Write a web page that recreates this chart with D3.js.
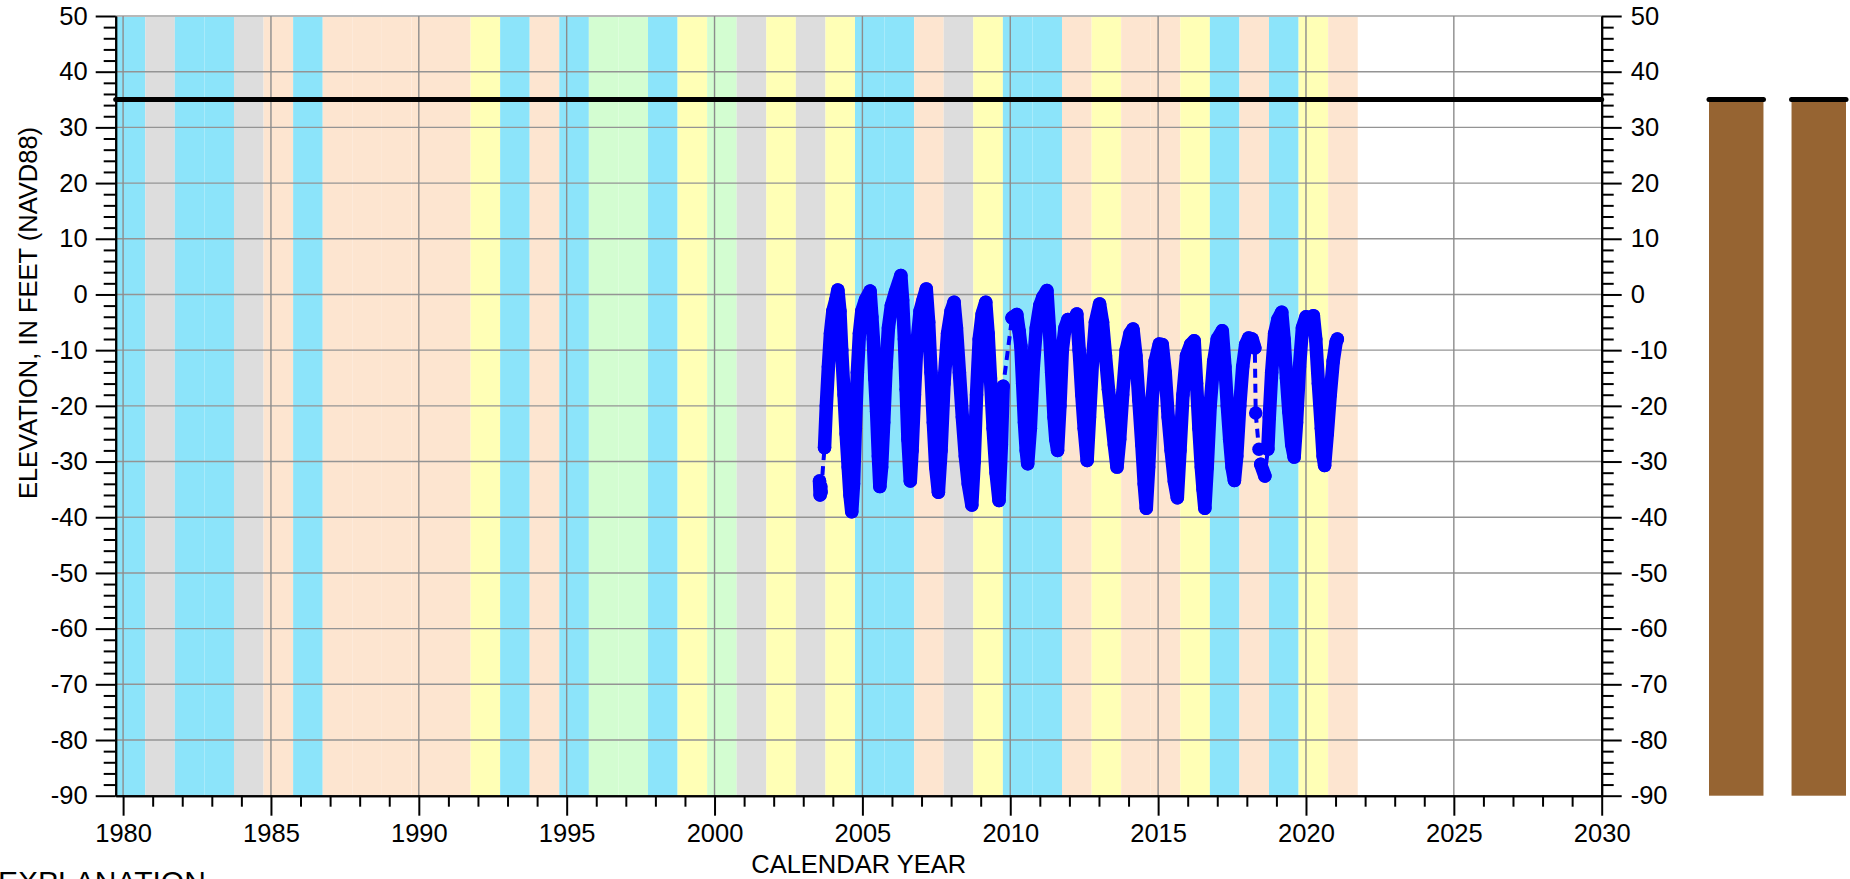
<!DOCTYPE html>
<html><head><meta charset="utf-8">
<script src="https://cdn.jsdelivr.net/npm/d3@7"></script>
<style>
body{margin:0;background:#fff;}
svg text{font-family:"Liberation Sans",Arial,sans-serif;}
</style>
</head><body>
<svg id="chart" width="1850" height="879"></svg>
<script>
// ---------------- DATA ----------------
const waterYears = [1980,1981,1982,1983,1984,1985,1986,1987,1988,1989,1990,1991,1992,1993,1994,1995,1996,1997,1998,1999,2000,2001,2002,2003,2004,2005,2006,2007,2008,2009,2010,2011,2012,2013,2014,2015,2016,2017,2018,2019,2020,2021];
const waterYearType = ["W","C","W","W","C","D","W","D","D","D","D","D","BN","W","D","W","AN","AN","W","BN","AN","C","BN","C","BN","W","W","D","C","BN","W","W","D","BN","D","D","BN","W","D","W","BN","D"];

const yTicksMajor = [-90,-80,-70,-60,-50,-40,-30,-20,-10,0,10,20,30,40,50];
const xTicksMajor = [1980,1985,1990,1995,2000,2005,2010,2015,2020,2025,2030];

const referenceElevation = 35;           // horizontal black line
const wellNames = ["A","B"];
const wellTop = [35, 35];
const wellBottom = [-90, -90];

// groundwater elevation record (decimal calendar year, feet NAVD88)
const obsYear = [
 2003.55,2003.57,2003.59,2003.60,
 2003.72,2003.78,2003.85,2003.92,2004.00,2004.10,2004.17,2004.24,2004.30,2004.38,2004.45,2004.52,2004.58,2004.64,
 2004.70,2004.76,2004.83,2004.90,2004.98,2005.10,2005.26,2005.32,2005.37,2005.42,2005.48,2005.54,2005.59,
 2005.65,2005.72,2005.80,2005.88,2005.98,2006.12,2006.30,2006.36,2006.42,2006.48,2006.54,2006.62,
 2006.68,2006.76,2006.84,2006.95,2007.05,2007.16,2007.24,2007.32,2007.40,2007.48,2007.57,
 2007.66,2007.76,2007.88,2008.00,2008.10,2008.18,2008.28,2008.38,2008.48,2008.58,2008.70,
 2008.78,2008.86,2008.95,2009.05,2009.17,2009.25,2009.33,2009.42,2009.52,2009.62,2009.70,2009.76,
 2010.06,2010.22,2010.30,2010.36,2010.42,2010.48,2010.54,2010.59,
 2010.68,2010.78,2010.88,2011.00,2011.10,2011.24,2011.32,2011.40,2011.48,2011.54,2011.60,
 2011.68,2011.76,2011.85,2011.95,2012.10,2012.25,2012.33,2012.42,2012.50,2012.60,
 2012.68,2012.78,2012.88,2013.02,2013.12,2013.22,2013.32,2013.42,2013.52,2013.61,
 2013.70,2013.80,2013.92,2014.05,2014.15,2014.25,2014.35,2014.45,2014.53,2014.60,
 2014.68,2014.78,2014.90,2015.04,2015.14,2015.24,2015.34,2015.44,2015.55,2015.65,
 2015.74,2015.84,2015.96,2016.10,2016.22,2016.30,2016.38,2016.46,2016.52,2016.58,
 2016.66,2016.76,2016.88,2017.00,2017.17,2017.26,2017.34,2017.42,2017.50,2017.58,
 2017.66,2017.76,2017.86,2017.96,2018.06,2018.18,2018.27,
 2018.30,
 2018.41,
 2018.47,2018.61,
 2018.71,2018.76,2018.84,2018.94,2019.05,2019.18,2019.26,2019.34,2019.42,2019.52,2019.60,
 2019.68,2019.78,2019.88,2020.00,2020.12,2020.25,2020.33,2020.42,2020.52,2020.58,2020.63,
 2020.72,2020.82,2020.92,2021.02,2021.06
];
const obsElev = [
 -33.5,-36.0,-34.5,-35.5,
 -27.5,-20,-13,-7,-3,-1,0.8,-3,-10,-18,-25,-31,-36,-39,
 -34,-24,-14,-7,-3,-1,0.6,-4,-8,-15,-21,-29,-34.5,
 -31,-23,-13,-6,-2,0.5,3.4,-1,-8,-17,-26,-33.5,
 -28,-18,-9,-3,-1,1.0,-5,-14,-23,-31,-35.5,
 -28,-16,-7,-3,-1.4,-6,-14,-22,-29,-34,-37.8,
 -30,-18,-8,-3.5,-1.4,-7,-15,-24,-32,-37,-27,-16.5,
 -4.2,-3.6,-6.6,-9.3,-16,-23,-28,-30.4,
 -24,-13,-6,-2,-0.5,0.7,-6,-14,-22,-26,-28,
 -20,-10,-6,-4.5,-5,-3.5,-10,-18,-24,-29.8,
 -22,-12,-5,-1.7,-5,-11,-17,-22,-27,-31,
 -26,-18,-10,-7,-6.2,-11,-19,-27,-34,-38.4,
 -31,-20,-12,-8.9,-9,-14,-22,-28,-33.6,-36.5,
 -28,-18,-11,-9,-8.3,-16,-24,-31,-35,-38.4,
 -31,-20,-12,-8,-6.5,-13,-20,-26,-31,-33.4,
 -29,-20,-13,-9,-7.8,-8,-9.6,
 -21.3,
 -27.8,
 -30.5,-32.6,
 -27.8,-22,-14,-7,-4.5,-3.2,-8,-15,-21,-27,-29.2,
 -23,-13,-6,-4,-4.5,-3.8,-8,-16,-24,-29,-30.7,
 -25,-18,-12,-8.5,-8
];
// years at which a new continuous run of record begins (gaps shown dashed)
const obsRunStarts = [2003.72, 2010.06, 2018.30, 2018.41, 2018.47, 2018.71];

// ---------------- CHART ----------------
const svg = d3.select("#chart");
const L = 115.7, R = 1601.7, T = 16, B = 795.7;
const x = d3.scaleLinear().domain([1979.75, 2030]).range([L, R]);
const y = d3.scaleLinear().domain([-90, 50]).range([B, T]);

const typeColor = {W:"#8ce4fa", AN:"#d3fdd1", BN:"#ffffb6", D:"#fde5d0", C:"#dddddd"};

// water-year bands
svg.append("g").selectAll("rect").data(waterYears).join("rect")
  .attr("x", d => x(d - 0.25))
  .attr("width", d => x(d + 0.75) - x(d - 0.25))
  .attr("y", y(50)).attr("height", y(-90) - y(50))
  .attr("fill", (d,i) => typeColor[waterYearType[i]]);

// grid
const grid = svg.append("g");
grid.selectAll("line.h").data(yTicksMajor.filter(v => v > -90 && v < 50)).join("line")
  .attr("x1", L).attr("x2", R).attr("y1", d => y(d)).attr("y2", d => y(d))
  .attr("stroke", "#949494").attr("stroke-width", 1.4);
grid.append("line").attr("x1", L).attr("x2", R).attr("y1", y(50)).attr("y2", y(50))
  .attr("stroke", "#b8b8b8").attr("stroke-width", 2.2);
grid.selectAll("line.v").data(xTicksMajor.filter(v => v < 2030)).join("line")
  .attr("x1", d => x(d)).attr("x2", d => x(d)).attr("y1", T).attr("y2", B)
  .attr("stroke", "#8c8c8c").attr("stroke-width", 1.4);

// reference line
svg.append("line")
  .attr("x1", x(1979.75)).attr("x2", x(2030))
  .attr("y1", y(referenceElevation)).attr("y2", y(referenceElevation))
  .attr("stroke", "#000").attr("stroke-width", 5).attr("stroke-linecap", "round");

// observations
let run = 0;
const pts = obsYear.map((t, i) => {
  if (obsRunStarts.includes(t)) run++;
  return {t, v: obsElev[i], run};
});
const line = d3.line().x(d => x(d.t)).y(d => y(d.v));
const dataG = svg.append("g");
dataG.append("path").attr("d", line(pts)).attr("fill", "none")
  .attr("stroke", "#0000ff").attr("stroke-width", 4).attr("stroke-dasharray", "9,6");
d3.groups(pts, d => d.run).forEach(([k, arr]) => {
  if (arr.length > 1) {
    dataG.append("path").attr("d", line(arr)).attr("fill", "none")
      .attr("stroke", "#0000ff").attr("stroke-width", 13.5)
      .attr("stroke-linejoin", "round").attr("stroke-linecap", "round");
  }
});
dataG.selectAll("circle").data(pts).join("circle")
  .attr("cx", d => x(d.t)).attr("cy", d => y(d.v)).attr("r", 6.75).attr("fill", "#0000ff");

// axes
const fmt = d => String(d);
const fontSize = "25.5px";
const yMinor = d3.range(-90, 51, 2).filter(v => v % 10 !== 0);
const xMinor = d3.range(1980, 2031, 1).filter(v => v % 5 !== 0);

function styleAxis(g) {
  g.select(".domain").attr("stroke", "#000").attr("stroke-width", 2);
  g.selectAll(".tick line").attr("stroke", "#000").attr("stroke-width", 2);
  g.selectAll("text").attr("fill", "#000").style("font-size", fontSize)
    .style("font-family", "'Liberation Sans', Arial, sans-serif");
}
svg.append("g").attr("transform", `translate(${L},0)`)
  .call(d3.axisLeft(y).tickValues(yMinor).tickSize(12).tickFormat("").tickSizeOuter(0)).call(styleAxis);
svg.append("g").attr("transform", `translate(${L},0)`)
  .call(d3.axisLeft(y).tickValues(yTicksMajor).tickSize(20).tickPadding(8).tickFormat(fmt).tickSizeOuter(0)).call(styleAxis);
svg.append("g").attr("transform", `translate(${R},0)`)
  .call(d3.axisRight(y).tickValues(yMinor).tickSize(12).tickFormat("").tickSizeOuter(0)).call(styleAxis);
svg.append("g").attr("transform", `translate(${R},0)`)
  .call(d3.axisRight(y).tickValues(yTicksMajor).tickSize(20).tickPadding(9).tickFormat(fmt).tickSizeOuter(0)).call(styleAxis);
svg.append("g").attr("transform", `translate(0,${B})`)
  .call(d3.axisBottom(x).tickValues(xMinor).tickSize(11).tickFormat("").tickSizeOuter(0)).call(styleAxis);
svg.append("g").attr("transform", `translate(0,${B})`)
  .call(d3.axisBottom(x).tickValues(xTicksMajor).tickSize(20).tickPadding(8).tickFormat(fmt).tickSizeOuter(0)).call(styleAxis);

// titles
svg.append("text").attr("x", (L + R) / 2).attr("y", 873).attr("text-anchor", "middle")
  .style("font-size", fontSize).text("CALENDAR YEAR");
svg.append("text").attr("transform", "translate(37,313) rotate(-90)").attr("text-anchor", "middle")
  .style("font-size", fontSize).text("ELEVATION, IN FEET (NAVD88)");
svg.append("text").attr("x", -2).attr("y", 892).style("font-size", "30px").text("EXPLANATION");

// well construction columns
const xw = d3.scaleBand().domain(wellNames).range([1709, 1846]).paddingInner(0.34);
const wg = svg.append("g");
wg.selectAll("rect").data(wellNames).join("rect")
  .attr("x", d => xw(d)).attr("width", xw.bandwidth())
  .attr("y", (d,i) => y(wellTop[i])).attr("height", (d,i) => y(wellBottom[i]) - y(wellTop[i]))
  .attr("fill", "#966432");
wg.selectAll("line").data(wellNames).join("line")
  .attr("x1", d => xw(d)).attr("x2", d => xw(d) + xw.bandwidth())
  .attr("y1", (d,i) => y(wellTop[i])).attr("y2", (d,i) => y(wellTop[i]))
  .attr("stroke", "#000").attr("stroke-width", 5).attr("stroke-linecap", "round");
</script>
</body></html>
